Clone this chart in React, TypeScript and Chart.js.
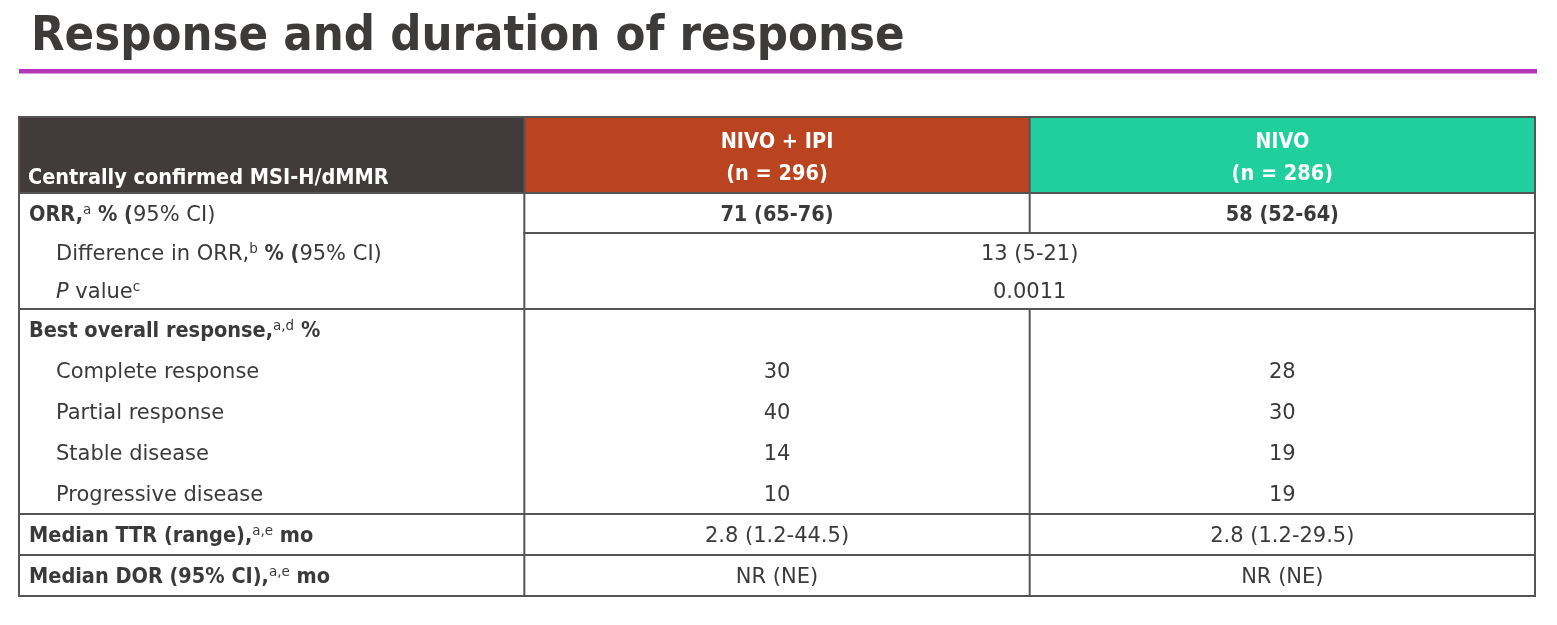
import { useEffect, useRef } from "react";
import { Chart, registerables } from "chart.js";

Chart.register(...registerables);

// ---------- content ----------
const TITLE = "Response and duration of response";
const ROW_HEADER = "Centrally confirmed MSI-H/dMMR";
const ARMS = ["NIVO + IPI", "NIVO"];
const ARM_N = ["(n = 296)", "(n = 286)"];

const rowLabelMain = [
  "ORR,",
  "Difference in ORR,",
  "P value",
  "Best overall response,",
  "Complete response",
  "Partial response",
  "Stable disease",
  "Progressive disease",
  "Median TTR (range),",
  "Median DOR (95% CI),",
];
const rowFootnotes = ["a", "b", "c", "a,d", "", "", "", "", "a,e", "a,e"];
const rowTailBold = [" % (", " % (", "", " %", "", "", "", "", " mo", " mo"];
const rowTailRegular = ["95% CI)", "95% CI)", "", "", "", "", "", "", "", ""];
const rowIsSubItem = [false, true, true, false, true, true, true, true, false, false];

const nivoIpiValues = ["71 (65-76)", "", "", "", "30", "40", "14", "10", "2.8 (1.2-44.5)", "NR (NE)"];
const nivoValues = ["58 (52-64)", "", "", "", "28", "30", "19", "19", "2.8 (1.2-29.5)", "NR (NE)"];
const comparisonValues = ["", "13 (5-21)", "0.0011", "", "", "", "", "", "", ""];
const boldValueRows = [true, false, false, false, false, false, false, false, false, false];

// ---------- layout / style ----------
const HEADER_H = 76;
const ROW_H = [40, 38, 38, 41, 41, 41, 41, 41, 41, 41];
// rule drawn at the bottom of each row
const ROW_RULE = ["values", "none", "full", "none", "none", "none", "none", "full", "full", "full"];
const HEADER_FILLS = ["#413c3b", "#b9441f", "#1fcf9e"];
const LINE = "#555555";
const TEXT = "#3a3a3a";
const TITLE_COLOR = "#3d3a3a";
const PURPLE = "#b336b6";

const REG = '21px "DejaVu Sans"';
const BOLD = 'bold 21.5px "DejaVu Sans Condensed", "DejaVu Sans"';
const ITAL = 'italic 21px "DejaVu Sans"';
const SUP = '13.5px "DejaVu Sans"';
const TITLE_FONT = 'bold 48.5px "DejaVu Sans Condensed", "DejaVu Sans"';

const TOTAL_H = HEADER_H + ROW_H.reduce((a, b) => a + b, 0);
const rowTop = ROW_H.map((_, i) => HEADER_H + ROW_H.slice(0, i).reduce((a, b) => a + b, 0));
const rowCenter = ROW_H.map((h, i) => rowTop[i] + h / 2);

function drawParts(ctx: CanvasRenderingContext2D, x: number, baseline: number, parts: [string, string, number][]) {
  let cx = x;
  for (const [t, f, dy] of parts) {
    if (!t) continue;
    ctx.font = f;
    ctx.fillText(t, cx, baseline + dy);
    cx += ctx.measureText(t).width;
  }
}

const tablePlugin = {
  id: "tableCells",
  beforeDatasetsDraw(chart: any) {
    const { ctx, scales } = chart;
    const X = (v: number) => scales.x.getPixelForValue(v);
    const Y = (v: number) => scales.y.getPixelForValue(v);
    ctx.save();
    HEADER_FILLS.forEach((c, i) => {
      ctx.fillStyle = c;
      ctx.fillRect(X(i), Y(0), X(i + 1) - X(i), Y(HEADER_H) - Y(0));
    });
    ctx.strokeStyle = LINE;
    ctx.lineWidth = 2;
    const hl = (x0: number, x1: number, yv: number) => {
      ctx.beginPath();
      ctx.moveTo(X(x0) - 1, Y(yv));
      ctx.lineTo(X(x1) + 1, Y(yv));
      ctx.stroke();
    };
    const vl = (xv: number, y0: number, y1: number) => {
      ctx.beginPath();
      ctx.moveTo(X(xv), Y(y0));
      ctx.lineTo(X(xv), Y(y1));
      ctx.stroke();
    };
    hl(0, 3, 0);
    hl(0, 3, HEADER_H);
    ROW_RULE.forEach((r, i) => {
      const yb = rowTop[i] + ROW_H[i];
      if (r === "full") hl(0, 3, yb);
      else if (r === "values") hl(1, 3, yb);
    });
    vl(0, 0, TOTAL_H);
    vl(1, 0, TOTAL_H);
    vl(3, 0, TOTAL_H);
    vl(2, 0, HEADER_H);
    comparisonValues.forEach((v, i) => {
      if (!v) vl(2, rowTop[i], rowTop[i] + ROW_H[i]);
    });
    ctx.restore();
  },
  afterDatasetsDraw(chart: any) {
    const { ctx, scales } = chart;
    const X = (v: number) => scales.x.getPixelForValue(v);
    const Y = (v: number) => scales.y.getPixelForValue(v);
    ctx.save();
    ctx.textBaseline = "alphabetic";
    // header
    ctx.fillStyle = "#ffffff";
    ctx.font = BOLD;
    ctx.textAlign = "left";
    ctx.fillText(ROW_HEADER, X(0) + 9, Y(HEADER_H) - 9);
    ctx.textAlign = "center";
    ARMS.forEach((a, i) => {
      ctx.fillText(a, X(i + 1.5), Y(0) + 31);
      ctx.fillText(ARM_N[i], X(i + 1.5), Y(0) + 63);
    });
    // row labels
    ctx.fillStyle = TEXT;
    ctx.textAlign = "left";
    rowLabelMain.forEach((lab, i) => {
      const base = Y(rowCenter[i]) + 7.5;
      const x0 = X(0) + (rowIsSubItem[i] ? 37 : 10);
      const mainFont = rowIsSubItem[i] ? REG : BOLD;
      const parts: [string, string, number][] = [];
      if (lab.startsWith("P ")) {
        parts.push(["P", ITAL, 0], [lab.slice(1), mainFont, 0]);
      } else {
        parts.push([lab, mainFont, 0]);
      }
      parts.push([rowFootnotes[i], SUP, -7]);
      parts.push([rowTailBold[i], BOLD, 0]);
      parts.push([rowTailRegular[i], REG, 0]);
      drawParts(ctx, x0, base, parts);
    });
    // values from dataset elements
    ctx.textAlign = "center";
    const sources = [nivoIpiValues, nivoValues, comparisonValues];
    sources.forEach((vals, di) => {
      const meta = chart.getDatasetMeta(di);
      meta.data.forEach((pt: any, i: number) => {
        const v = vals[i];
        if (!v) return;
        ctx.font = boldValueRows[i] ? BOLD : REG;
        ctx.fillText(v, pt.x, pt.y + 7.5);
      });
    });
    ctx.restore();
  },
  afterDraw(chart: any) {
    const { ctx } = chart;
    ctx.save();
    ctx.fillStyle = TITLE_COLOR;
    ctx.font = TITLE_FONT;
    ctx.textAlign = "left";
    ctx.textBaseline = "alphabetic";
    ctx.fillText(TITLE, 31, 50);
    ctx.fillStyle = PURPLE;
    ctx.fillRect(19, 69, 1518, 4.5);
    ctx.restore();
  },
};

export default function App() {
  const ref = useRef<HTMLCanvasElement>(null);
  useEffect(() => {
    const canvas = ref.current;
    if (!canvas) return;
    const chart = new Chart(canvas, {
      type: "scatter",
      data: {
        datasets: [
          { label: ARMS[0], data: nivoIpiValues.map((_, i) => ({ x: 1.5, y: rowCenter[i] })), pointRadius: 0 },
          { label: ARMS[1], data: nivoValues.map((_, i) => ({ x: 2.5, y: rowCenter[i] })), pointRadius: 0 },
          { label: "Difference", data: comparisonValues.map((_, i) => ({ x: 2, y: rowCenter[i] })), pointRadius: 0 },
        ],
      },
      options: {
        responsive: false,
        maintainAspectRatio: false,
        animation: false,
        devicePixelRatio: 1,
        events: [],
        layout: { padding: { left: 19, right: 22, top: 117, bottom: 29 } },
        plugins: { legend: { display: false }, tooltip: { enabled: false }, title: { display: false } },
        scales: {
          x: { type: "linear", min: 0, max: 3, display: false },
          y: { type: "linear", min: 0, max: TOTAL_H, reverse: true, display: false },
        },
      },
      plugins: [tablePlugin],
    } as any);
    return () => chart.destroy();
  }, []);
  return (
    <div style={{ position: "absolute", left: 0, top: 0, width: 1557, height: 625, background: "#ffffff" }}>
      <canvas ref={ref} width={1557} height={625} style={{ display: "block" }} />
    </div>
  );
}
